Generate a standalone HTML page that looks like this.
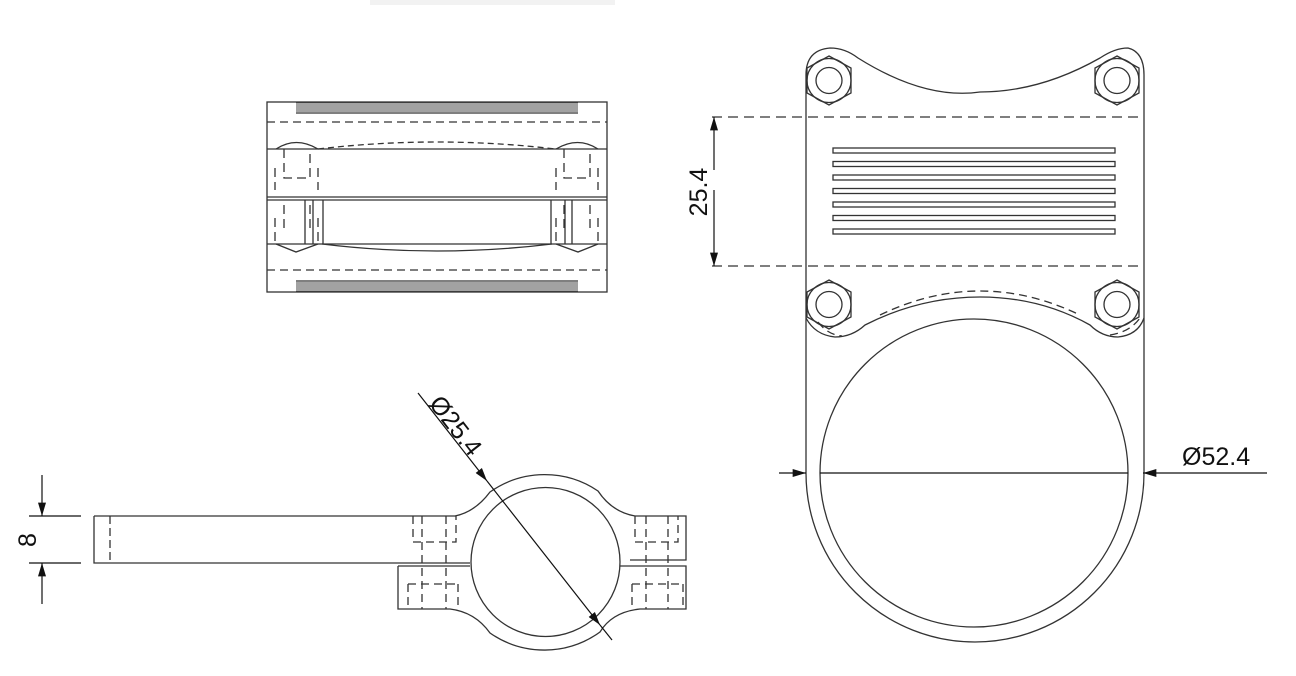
<!DOCTYPE html>
<html><head><meta charset="utf-8"><style>
html,body{margin:0;padding:0;background:#fff;width:1296px;height:676px;overflow:hidden}
svg{display:block}
text{font-family:"Liberation Sans",sans-serif;fill:#111}
</style></head><body>
<svg width="1296" height="676" viewBox="0 0 1296 676" xmlns="http://www.w3.org/2000/svg">
<defs>
<marker id="ar" viewBox="0 0 10 6" refX="10" refY="3" markerWidth="18" markerHeight="8" orient="auto" markerUnits="userSpaceOnUse"><path d="M0,0 L10,3 L0,6z" fill="#111"/></marker>
</defs>
<rect x="370" y="0" width="245" height="5" fill="#f2f2f2"/>
<g fill="none" stroke="#333" stroke-width="1.3">
<rect x="267" y="102" width="340" height="190"/>
<g stroke="#444" stroke-width="1">
<line x1="296" y1="103" x2="578" y2="103"/><line x1="296" y1="105" x2="578" y2="105"/><line x1="296" y1="107" x2="578" y2="107"/><line x1="296" y1="109" x2="578" y2="109"/><line x1="296" y1="111" x2="578" y2="111"/>
<line x1="296" y1="283" x2="578" y2="283"/><line x1="296" y1="285" x2="578" y2="285"/><line x1="296" y1="287" x2="578" y2="287"/><line x1="296" y1="289" x2="578" y2="289"/><line x1="296" y1="291" x2="578" y2="291"/>
</g>
<line x1="296" y1="113" x2="578" y2="113"/>
<line x1="296" y1="281" x2="578" y2="281"/>
<line x1="267" y1="122" x2="607" y2="122" stroke-dasharray="8,5"/>
<line x1="267" y1="270" x2="607" y2="270" stroke-dasharray="8,5"/>
<line x1="267" y1="149" x2="607" y2="149"/>
<line x1="267" y1="197" x2="607" y2="197"/>
<line x1="267" y1="200" x2="607" y2="200"/>
<line x1="267" y1="244" x2="607" y2="244"/>
<path d="M318,149 Q437,135 555,149" stroke-dasharray="6,4"/>
<path d="M322,244 Q437,258 552,244"/>
<path d="M276,149 Q296,136 318,149"/>
<path d="M556,149 Q578,136 598,149"/>
<path d="M276,244 L296,252 L318,244"/>
<path d="M556,244 L578,252 L598,244"/>
<line x1="323" y1="200" x2="323" y2="244"/><line x1="551" y1="200" x2="551" y2="244"/>
<g stroke-dasharray="9,5">
<path d="M284,149 V178 H310 V149 M275,168 V190 M318,168 V190 M284,228 V200 M310,228 V200 M275,218 V244 M318,218 V244"/>
<path d="M564,149 V178 H590 V149 M556,168 V190 M598,168 V190 M564,228 V200 M590,228 V200 M556,218 V244 M598,218 V244"/>
</g>
<path d="M305,200 V244 M313,200 V244 M565,200 V244 M572,200 V244"/>
<path d="M94,516 H455 Q475,512 490,492 A95,95 0 0 1 598,491 Q612,512 635,516 H686 V560 H630"/>
<path d="M94,516 V563 H470"/>
<path d="M398,566 H470"/>
<path d="M620,566 H686 V609 H640 Q612,612 600,632 A95,95 0 0 1 490,633 Q475,612 450,609 H398 V566"/>
<circle cx="545.5" cy="562" r="74.5"/>
<line x1="110" y1="516" x2="110" y2="563" stroke-dasharray="8,4"/>
<g stroke-dasharray="8,5">
<path d="M413,516 V542 H456 V516 M422,516 V609 M446,516 V609 M408,584 H458 M408,584 V609 M458,584 V609"/>
<path d="M635,516 V542 H678 V516 M646,516 V609 M668,516 V609 M632,584 H683 M632,584 V609 M683,584 V609"/>
</g>
<path d="M806,473 V75 Q806,50 830,48 Q845,48 858,58 Q925,100 980,92 Q1040,92 1100,58 Q1115,48 1128,48 Q1144,52 1144,75 V473"/>
<path d="M806,473 A169,169 0 0 0 1144,473"/>
<circle cx="974" cy="473" r="154"/>
<line x1="712" y1="117" x2="1144" y2="117" stroke-dasharray="10,6"/>
<line x1="712" y1="266" x2="1144" y2="266" stroke-dasharray="10,6"/>
<path d="M806,318 Q815,335 835,337 Q852,337 865,325 Q920,297 980,297 Q1040,297 1090,325 Q1102,337 1118,337 Q1138,335 1144,318"/>
<path d="M818,322 Q828,335 842,336 M880,315 Q930,291 980,291 Q1030,291 1080,315 M1110,335 Q1130,332 1140,318" stroke-dasharray="8,5"/>
<g>
<rect x="833" y="148" width="282" height="5"/><rect x="833" y="161.5" width="282" height="5"/>
<rect x="833" y="175" width="282" height="5"/><rect x="833" y="188.5" width="282" height="5"/>
<rect x="833" y="202" width="282" height="5"/><rect x="833" y="215.5" width="282" height="5"/>
<rect x="833" y="229" width="282" height="5"/>
</g>
<g id="nut"><polygon points="829,56 851,68 851,93 829,105 807,93 807,68"/><circle cx="829" cy="80.5" r="22"/><circle cx="829" cy="80.5" r="13"/></g>
<use href="#nut" x="288"/><use href="#nut" y="224"/><use href="#nut" x="288" y="224"/>
</g>
<g stroke="#111" stroke-width="1.2" fill="none">
<line x1="714" y1="170" x2="714" y2="117" marker-end="url(#ar)"/>
<line x1="714" y1="190" x2="714" y2="266" marker-end="url(#ar)"/>
<line x1="779" y1="473" x2="806" y2="473" marker-end="url(#ar)"/>
<line x1="820" y1="473" x2="1128" y2="473"/>
<line x1="1267" y1="473" x2="1143" y2="473" marker-end="url(#ar)"/>
<line x1="42" y1="475" x2="42" y2="516" marker-end="url(#ar)"/>
<line x1="42" y1="604" x2="42" y2="563" marker-end="url(#ar)"/>
<line x1="29" y1="516" x2="81" y2="516"/><line x1="29" y1="563" x2="81" y2="563"/>
<line x1="418" y1="393" x2="487" y2="481" marker-end="url(#ar)"/>
<line x1="487" y1="481" x2="600" y2="625" marker-end="url(#ar)"/>
<line x1="600" y1="625" x2="612" y2="640"/>
</g>
<text x="1182" y="465" font-size="25">Ø52.4</text>
<text transform="translate(707,192) rotate(-90)" font-size="25" text-anchor="middle">25.4</text>
<text transform="translate(36,540) rotate(-90)" font-size="25" text-anchor="middle">8</text>
<text transform="translate(428,404) rotate(52)" font-size="25">Ø25.4</text>
</svg>
</body></html>
